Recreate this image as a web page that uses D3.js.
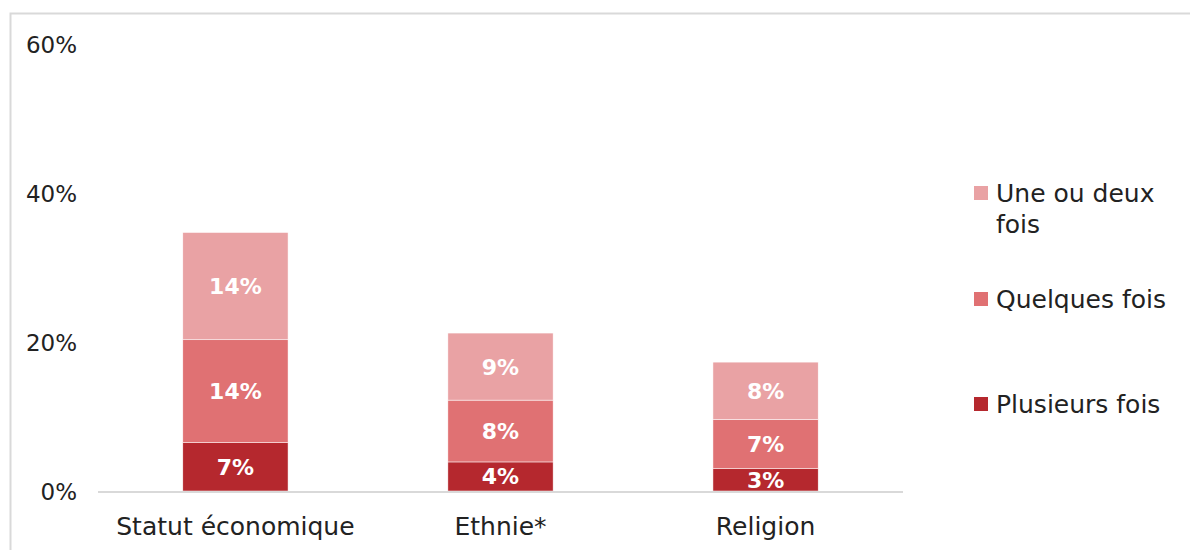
<!DOCTYPE html>
<html>
<head>
<meta charset="utf-8">
<script src="https://cdn.jsdelivr.net/npm/d3@7"></script>
<style>
  body { margin: 0; background: #fff; }
  text { font-family: "DejaVu Sans", sans-serif; }
</style>
</head>
<body>
<div id="chart"></div>
<script>
// data
const categories = ["Statut économique", "Ethnie*", "Religion"];
const seriesNames = ["Plusieurs fois", "Quelques fois", "Une ou deux fois"];
const plusieurs = [6.5, 3.9, 3.0];
const quelques = [13.8, 8.3, 6.6];
const uneDeux = [14.4, 9.0, 7.7];
const yTicks = [0, 20, 40, 60];
const colors = ["#b5282e", "#e07173", "#e9a2a4"];

const W = 1190, H = 550;
const margin = {left: 98, top: 44, right: 287, bottom: 58};

const svg = d3.select("#chart").append("svg")
  .attr("width", W).attr("height", H);

// frame (top + left border)
svg.append("path")
  .attr("d", "M10.5,550 L10.5,13.5 L1190,13.5")
  .attr("fill", "none").attr("stroke", "#d9d9d9").attr("stroke-width", 2);

const x = d3.scaleBand()
  .domain(categories)
  .range([margin.left, 903])
  .paddingInner(0.603).paddingOuter(0.32);

const y = d3.scaleLinear()
  .domain([0, 60])
  .range([H - margin.bottom - 1, margin.top]);

const rows = categories.map((c, i) => ({cat: c, p: plusieurs[i], q: quelques[i], u: uneDeux[i]}));
const stack = d3.stack().keys(["p", "q", "u"]);
const layers = stack(rows);

// y tick labels
svg.append("g").selectAll("text")
  .data(yTicks).enter().append("text")
  .attr("x", 77).attr("y", d => y(d) + 9)
  .attr("text-anchor", "end")
  .attr("font-size", 23).attr("fill", "#222")
  .text(d => d + "%");

// bars
const g = svg.append("g");
layers.forEach((layer, li) => {
  g.selectAll(null).data(layer).enter().append("rect")
    .attr("x", d => x(d.data.cat))
    .attr("width", x.bandwidth())
    .attr("y", d => y(d[1]))
    .attr("height", d => y(d[0]) - y(d[1]))
    .attr("fill", colors[li])
    .attr("stroke", "#fff").attr("stroke-width", 0.5);

  g.selectAll(null).data(layer).enter().append("text")
    .attr("x", d => x(d.data.cat) + x.bandwidth() / 2)
    .attr("y", d => (y(d[0]) + y(d[1])) / 2 + 8)
    .attr("text-anchor", "middle")
    .attr("font-size", 22).attr("font-weight", "bold").attr("fill", "#fff")
    .text(d => Math.round(d[1] - d[0]) + "%");
});

// x axis line
svg.append("line")
  .attr("x1", margin.left).attr("x2", 903)
  .attr("y1", y(0) + 1).attr("y2", y(0) + 1)
  .attr("stroke", "#d9d9d9").attr("stroke-width", 2);

// category labels
svg.append("g").selectAll("text")
  .data(categories).enter().append("text")
  .attr("x", d => x(d) + x.bandwidth() / 2)
  .attr("y", 535)
  .attr("text-anchor", "middle")
  .attr("font-size", 25).attr("fill", "#222")
  .text(d => d);

// legend (reverse order: top = Une ou deux fois)
const legendItems = [
  {lines: ["Une ou deux", "fois"], color: colors[2], y: 193},
  {lines: ["Quelques fois"], color: colors[1], y: 299},
  {lines: ["Plusieurs fois"], color: colors[0], y: 404}
];
const lg = svg.append("g");
legendItems.forEach(it => {
  lg.append("rect")
    .attr("x", 974).attr("y", it.y - 7)
    .attr("width", 14).attr("height", 14)
    .attr("fill", it.color);
  const t = lg.append("text")
    .attr("x", 996).attr("y", it.y + 9)
    .attr("font-size", 25).attr("fill", "#222");
  it.lines.forEach((l, i) => {
    t.append("tspan").attr("x", 996).attr("dy", i === 0 ? 0 : 31).text(l);
  });
});
</script>
</body>
</html>
